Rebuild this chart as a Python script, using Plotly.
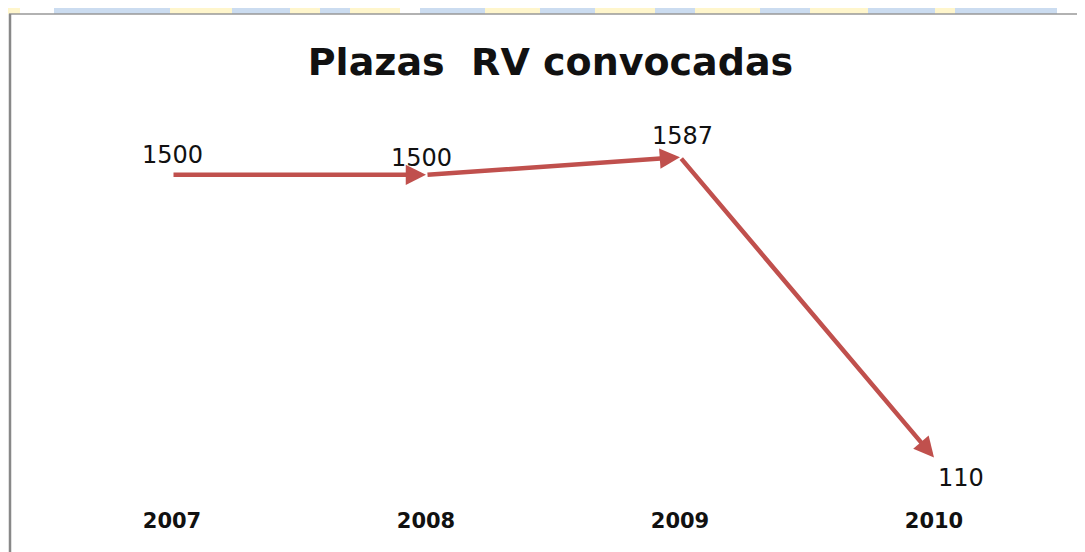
import plotly.graph_objects as go

years = ["2007", "2008", "2009", "2010"]
plazas = [1500, 1500, 1587, 110]
label_shift_x = [0, -5, 2, 27]
label_shift_y = [20, 17, 21, -20]

W, H = 1085, 552
OFF = 8  # page body margin
ML, MR, MT, MB = 37, 32, 92, 80
PW, PH = W - ML - MR, H - MT - MB

def px(x):
    return (x - OFF - ML) / PW

def py(y):
    return (H - MB - (y - OFF)) / PH

RED = "#C0504D"
xs = list(range(len(years)))

fig = go.Figure()
fig.add_trace(go.Scatter(x=xs, y=plazas, mode="markers",
                         marker=dict(size=1, color="rgba(0,0,0,0)"),
                         hoverinfo="skip", showlegend=False))

annotations = []
for i in range(1, len(xs)):
    annotations.append(dict(x=xs[i], y=plazas[i], ax=xs[i - 1], ay=plazas[i - 1],
                            xref="x", yref="y", axref="x", ayref="y",
                            showarrow=True, arrowhead=2, arrowsize=0.9,
                            arrowwidth=4.5, arrowcolor=RED, text=""))
for i in range(len(xs)):
    annotations.append(dict(x=xs[i], y=plazas[i], text=str(plazas[i]),
                            showarrow=False, xshift=label_shift_x[i],
                            yshift=label_shift_y[i],
                            font=dict(family="DejaVu Sans", size=24, color="#111")))

stripes = [(0, 20, "#FFF6CC"), (54, 170, "#CBDCF0"), (170, 232, "#FFF6CC"),
           (232, 290, "#CBDCF0"), (290, 320, "#FFF6CC"), (320, 350, "#CBDCF0"),
           (350, 400, "#FFF6CC"), (420, 485, "#CBDCF0"), (485, 540, "#FFF6CC"),
           (540, 595, "#CBDCF0"), (595, 655, "#FFF6CC"), (655, 695, "#CBDCF0"),
           (695, 760, "#FFF6CC"), (760, 810, "#CBDCF0"), (810, 868, "#FFF6CC"),
           (868, 935, "#CBDCF0"), (935, 955, "#FFF6CC"), (955, 1057, "#CBDCF0")]
shapes = []
for a, b, c in stripes:
    shapes.append(dict(type="rect", xref="paper", yref="paper", x0=px(a), x1=px(b),
                       y0=py(14), y1=py(0), fillcolor=c, line_width=0, layer="below"))
shapes.append(dict(type="line", xref="paper", yref="paper", x0=px(9), x1=px(1100),
                   y0=py(14), y1=py(14), line=dict(color="#999", width=1.5)))
shapes.append(dict(type="line", xref="paper", yref="paper", x0=px(10), x1=px(10),
                   y0=py(14), y1=py(570), line=dict(color="#888", width=2.5)))

fig.update_layout(
    width=W, height=H,
    margin=dict(l=ML, r=MR, t=MT, b=MB),
    paper_bgcolor="white", plot_bgcolor="white",
    title=dict(text="Plazas&nbsp; RV convocadas", x=px(553), xanchor="center",
               y=1 - (62 - OFF) / H, yanchor="middle", yref="container",
               font=dict(family="DejaVu Sans", size=38, color="#111", weight="bold")),
    xaxis=dict(range=[-0.5, 3.5], tickvals=xs, ticktext=years, showgrid=False,
               zeroline=False, showline=False, ticks="outside", ticklen=22,
               tickcolor="rgba(0,0,0,0)",
               tickfont=dict(family="DejaVu Sans", size=21, color="#111", weight="bold")),
    yaxis=dict(range=[0, 1868], visible=False, showgrid=False, zeroline=False),
    annotations=annotations,
    shapes=shapes,
    showlegend=False,
)

fig.write_html("out.html")
